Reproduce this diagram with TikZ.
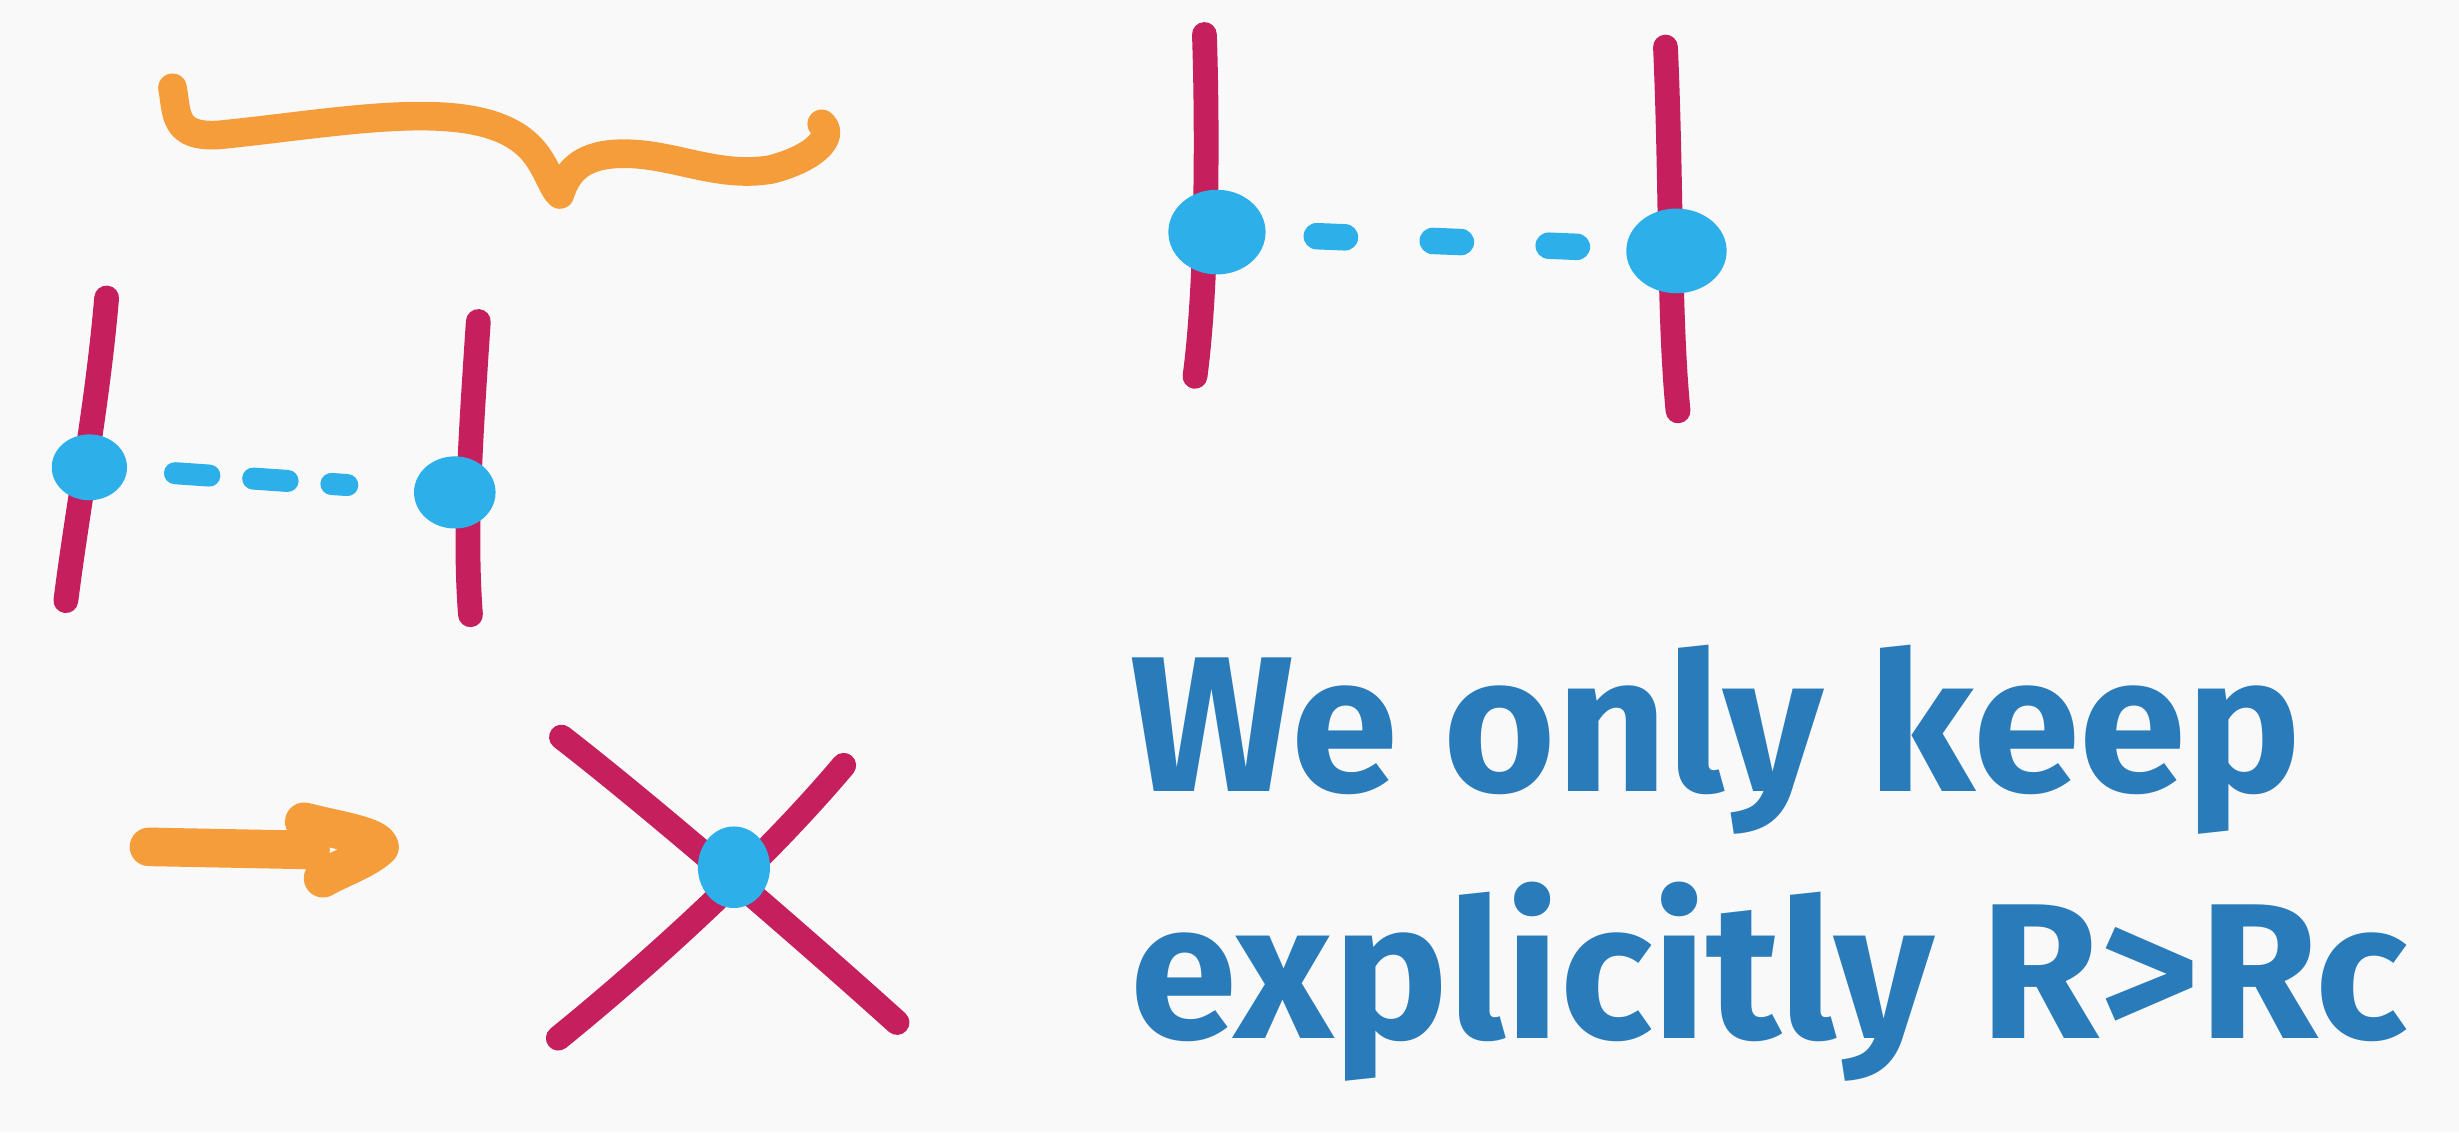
\documentclass[tikz,border=0pt]{standalone}
\usepackage{fontspec}
\setmainfont{Fira Sans}
\usetikzlibrary{shapes.geometric}

\definecolor{bracecol}{HTML}{F49D3A}
\definecolor{stringcol}{HTML}{C51F5D}
\definecolor{dotcol}{HTML}{2DB0EA}
\definecolor{textcol}{HTML}{2A7BBA}
\definecolor{paper}{HTML}{FAF9F9}

\tikzset{
    pen/.style={bracecol, line width=5.2pt, line cap=round, line join=round},
    brane/.style={stringcol, line width=4.5pt, line cap=round},
    endpt/.style={ellipse, fill=dotcol, inner sep=0pt},
    bond/.style={dotcol, line width=4.8pt, line cap=round},
    words/.style={textcol, font=\fontsize{35}{40}\selectfont\bfseries, inner sep=0pt}
}

\begin{document}
\begin{tikzpicture}[x=1cm, y=-1cm]

        % Paper
        \fill[paper] (0,0) rectangle (15.68,7.22);
        \useasboundingbox (0,0) rectangle (15.68,7.22);

        % Brace
        \draw[pen] (1.10,0.56) .. controls (1.13,0.72) and (1.10,0.88) .. (1.40,0.86)
            .. controls (2.20,0.78) and (3.05,0.60) .. (3.38,0.94)
            .. controls (3.48,1.04) and (3.52,1.20) .. (3.57,1.24)
            .. controls (3.62,1.08) and (3.72,0.98) .. (3.98,0.98)
            .. controls (4.30,0.98) and (4.58,1.14) .. (4.92,1.08)
            .. controls (5.22,1.00) and (5.32,0.86) .. (5.24,0.79);

        % Top pair of branes
        \draw[brane] (7.68,0.22) .. controls (7.70,0.80) and (7.70,1.80) .. (7.62,2.40);
        \draw[brane] (10.62,0.30) .. controls (10.66,1.20) and (10.64,2.00) .. (10.70,2.62);
        \node[endpt, minimum width=0.62cm, minimum height=0.54cm] (topA) at (7.76,1.48) {};
        \node[endpt, minimum width=0.64cm, minimum height=0.54cm] (topB) at (10.69,1.60) {};
        \draw[bond, dash pattern=on 0.18cm off 0.56cm, shorten <=0.32cm, shorten >=0.20cm] (topA) -- (topB);

        % Lower pair of branes
        \draw[brane] (0.68,1.90) .. controls (0.62,2.60) and (0.50,3.20) .. (0.42,3.83);
        \draw[brane] (3.05,2.05) .. controls (3.00,2.80) and (2.96,3.40) .. (3.00,3.92);
        \node[endpt, minimum width=0.48cm, minimum height=0.42cm] (lowA) at (0.57,2.98) {};
        \node[endpt, minimum width=0.52cm, minimum height=0.46cm] (lowB) at (2.90,3.14) {};
        \draw[bond, line width=4pt, dash pattern=on 0.22cm off 0.28cm, shorten <=0.30cm, shorten >=0.42cm] (lowA) -- (lowB);

        % Arrow
        \draw[pen, line width=7pt] (0.95,5.40) -- (1.98,5.42);
        \draw[pen, line width=7pt] (1.94,5.24) .. controls (2.18,5.30) and (2.40,5.33) .. (2.42,5.40)
            .. controls (2.34,5.48) and (2.14,5.55) .. (2.06,5.60);

        % Crossing branes
        \draw[brane] (3.58,4.70) .. controls (4.20,5.18) and (5.20,6.05) .. (5.72,6.52);
        \draw[brane] (5.38,4.88) .. controls (4.90,5.45) and (4.20,6.10) .. (3.56,6.62);
        \node[endpt, minimum width=0.46cm, minimum height=0.52cm] (cross) at (4.68,5.53) {};

        % Note
        \node[words, anchor=base west] (note1) at (7.20,5.05) {We only keep};
        \node[words, anchor=base west] (note2) at (7.20,6.62) {explicitly R>Rc};

    \end{tikzpicture}
\end{document}
